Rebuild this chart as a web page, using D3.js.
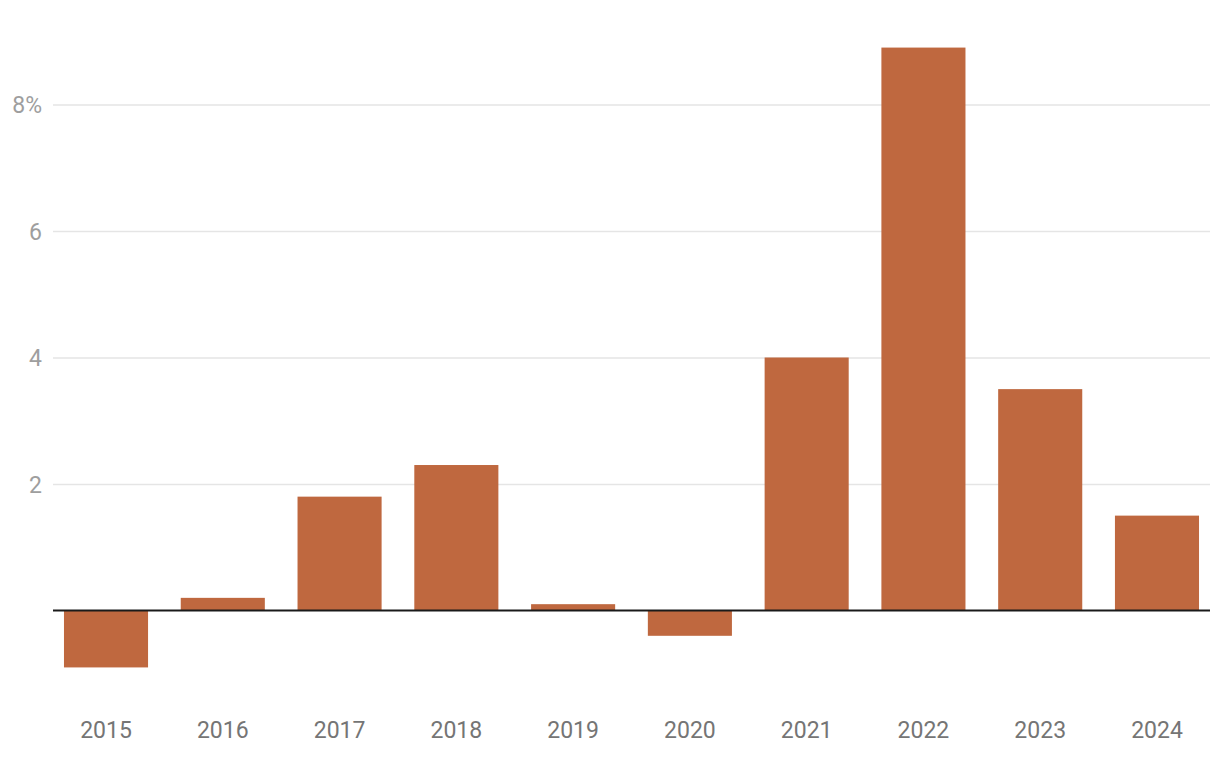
<!DOCTYPE html>
<html>
<head>
<meta charset="utf-8">
<script src="https://cdn.jsdelivr.net/npm/d3@7"></script>
<style>
body { margin: 0; background: #fff; }
svg { display: block; font-family: Roboto, "Noto Sans", sans-serif; }
</style>
</head>
<body>
<svg></svg>
<script>
// chart data
var years = ["2015","2016","2017","2018","2019","2020","2021","2022","2023","2024"]
var values = [-0.9, 0.2, 1.8, 2.3, 0.1, -0.4, 4.0, 8.9, 3.5, 1.5]
var yTicks = [2, 4, 6, 8]
var yTickLabels = ["2", "4", "6", "8%"]

var screen = {width: 1220, height: 762}
var plot = {left: 53, right: 1210, zeroY: 610.5, topY: 104.5}

var svg = d3.select("svg")
    .attr("width", screen.width)
    .attr("height", screen.height)

var xScale = d3.scaleBand()
    .domain(years)
    .range([plot.left, plot.right])
    .paddingInner(0.28)
    .paddingOuter(0.094)

// 0 -> zero line, 8 -> top gridline
var yScale = d3.scaleLinear()
    .domain([0, 8])
    .range([plot.zeroY, plot.topY])

// gridlines + y labels
var yAxis = d3.axisLeft(yScale)
    .tickValues(yTicks)
    .tickSize(-(plot.right - plot.left))
    .tickFormat(function(d, i){ return yTickLabels[i] })

svg.append("g")
    .attr("id", "yAxis")
    .attr("transform", "translate(" + plot.left + ",0)")
    .call(yAxis)
    .call(function(g){
        g.select(".domain").remove()
        g.selectAll(".tick line").attr("stroke", "#e5e5e5").attr("stroke-width", 1.5)
        g.selectAll(".tick text")
            .attr("x", -11)
            .attr("dy", "0.35em")
            .attr("fill", "#9e9e9e")
            .style("font-size", "23px")
            .style("font-family", "Roboto")
    })

// bars
svg.append("g")
    .selectAll("rect")
    .data(values)
    .enter()
    .append("rect")
    .attr("x", function(d, i){ return xScale(years[i]) })
    .attr("width", xScale.bandwidth())
    .attr("y", function(d){ return yScale(Math.max(0, d)) })
    .attr("height", function(d){ return Math.abs(yScale(d) - yScale(0)) })
    .attr("fill", "#bf683f")

// zero line
svg.append("line")
    .attr("x1", plot.left)
    .attr("x2", plot.right)
    .attr("y1", yScale(0))
    .attr("y2", yScale(0))
    .attr("stroke", "#1a1a1a")
    .attr("stroke-width", 2)

// x labels
var xAxis = d3.axisBottom(xScale).tickSize(0)
svg.append("g")
    .attr("id", "xAxis")
    .attr("transform", "translate(0,738)")
    .call(xAxis)
    .call(function(g){
        g.select(".domain").remove()
        g.selectAll(".tick text")
            .attr("y", 0)
            .attr("dy", 0)
            .attr("fill", "#757575")
            .style("font-size", "23px")
            .style("font-family", "Roboto")
    })
</script>
</body>
</html>
